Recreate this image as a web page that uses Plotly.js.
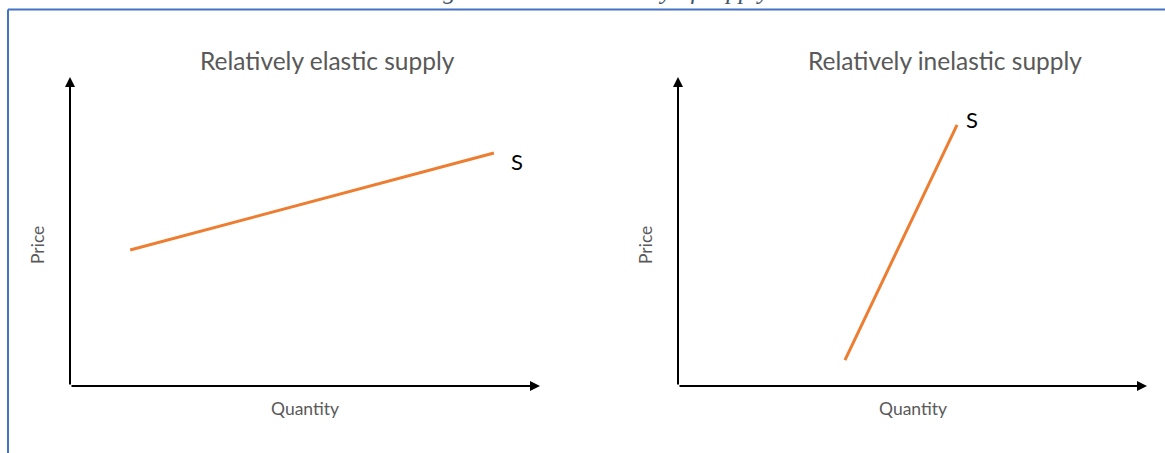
<!DOCTYPE html>
<html>
<head>
<meta charset="utf-8">
<script src="https://cdn.plot.ly/plotly-3.0.1.min.js"></script>
<style>
  html, body { margin: 0; padding: 0; background: #fff; }
  #chart { width: 1165px; height: 453px; }
</style>
</head>
<body>
<div id="chart"></div>
<script>
// Supply curves (quantity, price), axes 0..10
const elasticQty = [1.28, 9.02];
const elasticPrice = [4.40, 7.54];
const inelasticQty = [3.56, 5.95];
const inelasticPrice = [0.84, 8.45];

const panelTitles = ['Relatively elastic supply', 'Relatively inelastic supply'];
const axisNames = ['Quantity', 'Price'];
const curveLabel = 'S';
const caption = 'Figure 2: Price elasticity of supply';

const W = 1165, H = 453;
const px = x => x / W;
const py = y => 1 - y / H;

const orange = '#ED7D31';
const grey = '#595959';
const uiFont = 'Lato, "Open Sans", sans-serif';

function hiddenAxis(domain, anchor) {
    return {
        domain: domain,
        anchor: anchor,
        range: [0, 10],
        showgrid: false,
        zeroline: false,
        showline: false,
        showticklabels: false,
        ticks: '',
        fixedrange: true
    };
}

const traces = [{
    x: elasticQty, y: elasticPrice,
    xaxis: 'x', yaxis: 'y',
    type: 'scatter', mode: 'lines',
    line: {color: orange, width: 3},
    hoverinfo: 'skip'
}, {
    x: inelasticQty, y: inelasticPrice,
    xaxis: 'x2', yaxis: 'y2',
    type: 'scatter', mode: 'lines',
    line: {color: orange, width: 3},
    hoverinfo: 'skip'
}];

// axis arrows for both panels
function arrows(xr, yr) {
    const base = {
        xref: xr, yref: yr, axref: xr, ayref: yr,
        text: '', showarrow: true,
        arrowhead: 2, arrowsize: 1, arrowwidth: 2, arrowcolor: '#000',
        standoff: 0, startstandoff: 0
    };
    return [
        Object.assign({}, base, {x: 10, y: 0, ax: 0, ay: 0}),
        Object.assign({}, base, {x: 0, y: 10, ax: 0, ay: 0})
    ];
}

// centred text in page pixels
function label(x, y, text, size, color, extra) {
    return Object.assign({
        xref: 'paper', yref: 'paper', x: px(x), y: py(y),
        xanchor: 'center', yanchor: 'middle',
        text: text, showarrow: false,
        font: {family: uiFont, size: size, color: color}
    }, extra || {});
}

const annotations = [].concat(
    arrows('x', 'y'),
    arrows('x2', 'y2'),
    [
        label(327, 60, panelTitles[0], 24.5, grey),
        label(945, 60, panelTitles[1], 24.5, grey),
        label(305, 408, axisNames[0], 17.5, grey),
        label(913, 408, axisNames[0], 17.5, grey),
        label(37, 245, axisNames[1], 17.5, grey, {textangle: -90}),
        label(645, 245, axisNames[1], 17.5, grey, {textangle: -90}),
        // curve labels sit on the data scale
        {xref: 'x', yref: 'y', x: 9.51, y: 7.25, text: curveLabel, xanchor: 'center', yanchor: 'middle',
         showarrow: false, font: {family: uiFont, size: 22, color: '#000'}},
        {xref: 'x2', yref: 'y2', x: 6.27, y: 8.61, text: curveLabel, xanchor: 'center', yanchor: 'middle',
         showarrow: false, font: {family: uiFont, size: 22, color: '#000'}},
        // figure caption, mostly above the top edge as in the source
        label(595, -9, '<i>' + caption + '</i>', 25, '#44546A', {font: {family: '"Liberation Serif", serif', size: 25, color: '#44546A'}})
    ]
);

const layout = {
    width: W, height: H,
    margin: {l: 0, r: 0, t: 0, b: 0},
    paper_bgcolor: '#fff',
    plot_bgcolor: 'rgba(0,0,0,0)',
    showlegend: false,
    xaxis: hiddenAxis([px(70), px(540)], 'y'),
    yaxis: hiddenAxis([py(386), py(77)], 'x'),
    xaxis2: hiddenAxis([px(678), px(1147)], 'y2'),
    yaxis2: hiddenAxis([py(386), py(77)], 'x2'),
    annotations: annotations,
    shapes: [
        // blue frame, top and left
        {type: 'line', xref: 'paper', yref: 'paper', x0: px(8), x1: 1, y0: py(9.5), y1: py(9.5),
         line: {color: '#4472C4', width: 2}},
        {type: 'line', xref: 'paper', yref: 'paper', x0: px(8), x1: px(8), y0: py(9.5), y1: 0,
         line: {color: '#4472C4', width: 2}}
    ]
};

Plotly.newPlot('chart', traces, layout, {staticPlot: true, displayModeBar: false});
</script>
</body>
</html>
